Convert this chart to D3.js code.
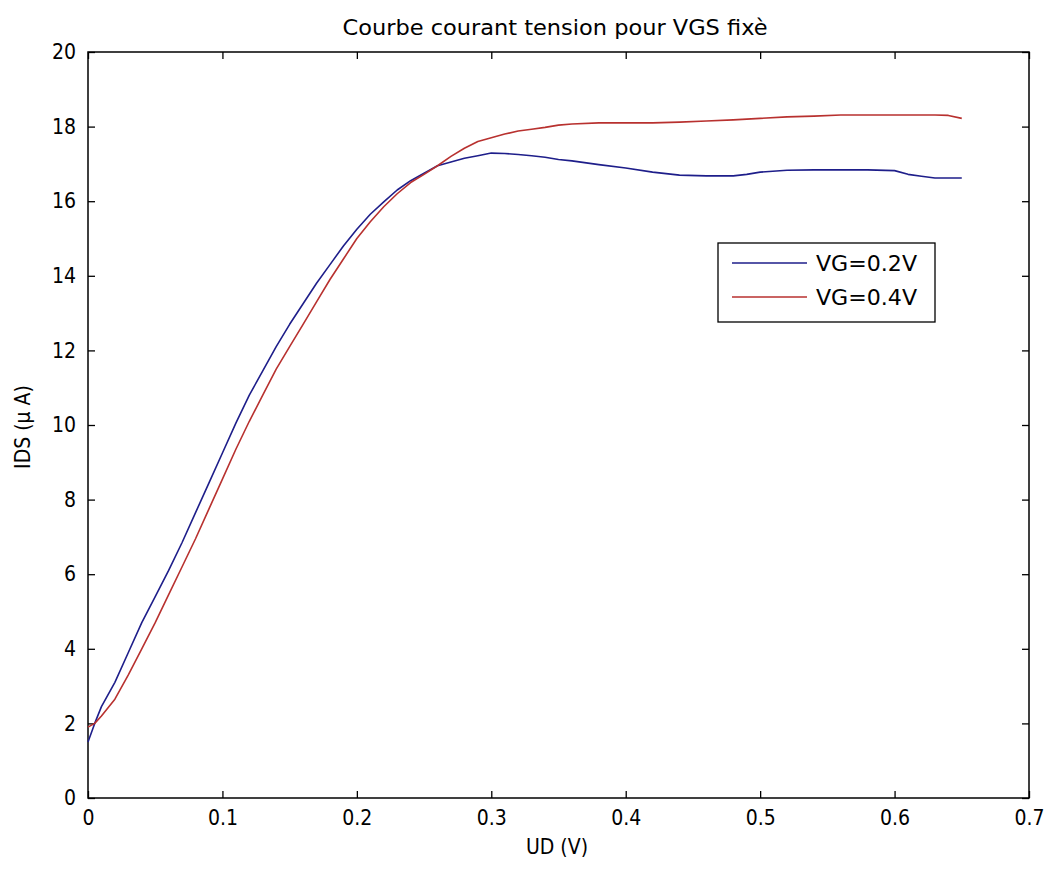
<!DOCTYPE html>
<html>
<head>
<meta charset="utf-8">
<script src="https://cdn.jsdelivr.net/npm/d3@7"></script>
<style>
  html, body { margin: 0; padding: 0; background: #ffffff; }
  svg { display: block; }
  text { font-family: "DejaVu Sans Condensed", "Liberation Sans Narrow", "Liberation Sans", sans-serif; fill: #000; }
</style>
</head>
<body>
<svg id="chart" width="1046" height="869"></svg>
<script>
// ---- data ----
const title = "Courbe courant tension pour VGS fixè";
const xLabel = "UD (V)";
const yLabel = "IDS (µ A)";
const seriesNames = ["VG=0.2V", "VG=0.4V"];
const xTicks = [0, 0.1, 0.2, 0.3, 0.4, 0.5, 0.6, 0.7];
const yTicks = [0, 2, 4, 6, 8, 10, 12, 14, 16, 18, 20];
const ud = [0, 0.005, 0.01, 0.02, 0.03, 0.04, 0.05, 0.06, 0.07, 0.08, 0.09, 0.1, 0.11, 0.12, 0.13, 0.14, 0.15, 0.16, 0.17, 0.18, 0.19, 0.2, 0.21, 0.22, 0.23, 0.24, 0.25, 0.26, 0.27, 0.28, 0.29, 0.3, 0.31, 0.32, 0.33, 0.34, 0.35, 0.36, 0.38, 0.4, 0.42, 0.44, 0.46, 0.48, 0.49, 0.5, 0.52, 0.54, 0.56, 0.58, 0.6, 0.61, 0.62, 0.63, 0.64, 0.65];
const idsVG02 = [1.5, 2.0, 2.45, 3.1, 3.9, 4.7, 5.4, 6.1, 6.85, 7.65, 8.45, 9.25, 10.05, 10.8, 11.45, 12.1, 12.7, 13.25, 13.8, 14.3, 14.8, 15.25, 15.65, 15.98, 16.3, 16.55, 16.75, 16.95, 17.05, 17.15, 17.22, 17.29, 17.28, 17.25, 17.22, 17.18, 17.12, 17.08, 16.98, 16.89, 16.78, 16.7, 16.68, 16.68, 16.72, 16.78, 16.83, 16.84, 16.84, 16.84, 16.82, 16.72, 16.67, 16.62, 16.62, 16.62];
const idsVG04 = [1.9, 2.0, 2.2, 2.65, 3.3, 4.0, 4.7, 5.45, 6.2, 6.95, 7.75, 8.55, 9.35, 10.1, 10.8, 11.5, 12.1, 12.7, 13.3, 13.9, 14.45, 15.0, 15.45, 15.85, 16.2, 16.5, 16.72, 16.95, 17.2, 17.42, 17.6, 17.7, 17.8, 17.88, 17.93, 17.98, 18.04, 18.07, 18.1, 18.1, 18.1, 18.12, 18.15, 18.18, 18.2, 18.22, 18.26, 18.28, 18.31, 18.31, 18.31, 18.31, 18.31, 18.31, 18.3, 18.22];
const colors = ["#1e1e8a", "#b8312f"];

// ---- layout ----
const svg = d3.select("#chart");
const L = 88, T = 52, R = 1029, B = 798;
const x = d3.scaleLinear().domain([0, 0.7]).range([L, R]);
const y = d3.scaleLinear().domain([0, 20]).range([B, T]);
const fs = 21;

// box
svg.append("rect").attr("x", L).attr("y", T).attr("width", R - L).attr("height", B - T)
  .attr("fill", "none").attr("stroke", "#000").attr("stroke-width", 1.5);

// axes (inward ticks)
const tickLen = 7;
const xAxisB = d3.axisBottom(x).tickValues(xTicks).tickFormat(d => d === 0 ? "0" : d3.format(".1f")(d)).tickSizeInner(-tickLen).tickSizeOuter(0).tickPadding(tickLen + 5);
const xAxisT = d3.axisTop(x).tickValues(xTicks).tickFormat("").tickSizeInner(-tickLen).tickSizeOuter(0);
const yAxisL = d3.axisLeft(y).tickValues(yTicks).tickFormat(d3.format("d")).tickSizeInner(-tickLen).tickSizeOuter(0).tickPadding(tickLen + 5);
const yAxisR = d3.axisRight(y).tickValues(yTicks).tickFormat("").tickSizeInner(-tickLen).tickSizeOuter(0);

function style(g) {
  g.select(".domain").remove();
  g.selectAll(".tick line").attr("stroke", "#000").attr("stroke-width", 1.3);
  g.selectAll(".tick text").attr("font-size", fs).attr("fill", "#000");
  g.attr("font-family", null).attr("font-size", null);
}
svg.append("g").attr("transform", `translate(0,${B})`).call(xAxisB).call(style);
svg.append("g").attr("transform", `translate(0,${T})`).call(xAxisT).call(style);
svg.append("g").attr("transform", `translate(${L},0)`).call(yAxisL).call(style);
svg.append("g").attr("transform", `translate(${R},0)`).call(yAxisR).call(style);

// lines
const series = [idsVG02, idsVG04];
const line = d3.line().x((d, i) => x(ud[i])).y(d => y(d));
series.forEach((s, k) => {
  svg.append("path").datum(s).attr("d", line).attr("fill", "none")
    .attr("stroke", colors[k]).attr("stroke-width", 1.6).attr("stroke-linejoin", "round");
});

// title & labels
svg.append("text").attr("x", 555).attr("y", 35).attr("text-anchor", "middle").attr("font-size", fs)
  .attr("textLength", 425).attr("lengthAdjust", "spacingAndGlyphs").text(title);
svg.append("text").attr("x", 557).attr("y", 854).attr("text-anchor", "middle").attr("font-size", fs).text(xLabel);
svg.append("text").attr("transform", "translate(30,427) rotate(-90)").attr("text-anchor", "middle").attr("font-size", fs).text(yLabel);

// legend
const lg = svg.append("g");
lg.append("rect").attr("x", 718).attr("y", 243).attr("width", 217).attr("height", 79)
  .attr("fill", "#fff").attr("stroke", "#000").attr("stroke-width", 1.3);
seriesNames.forEach((n, k) => {
  const yy = 263 + k * 34;
  lg.append("line").attr("x1", 732).attr("x2", 807).attr("y1", yy).attr("y2", yy)
    .attr("stroke", colors[k]).attr("stroke-width", 1.6);
  lg.append("text").attr("x", 816).attr("y", yy + 8).attr("font-size", fs)
    .attr("textLength", 101).attr("lengthAdjust", "spacingAndGlyphs").text(n);
});
</script>
</body>
</html>
